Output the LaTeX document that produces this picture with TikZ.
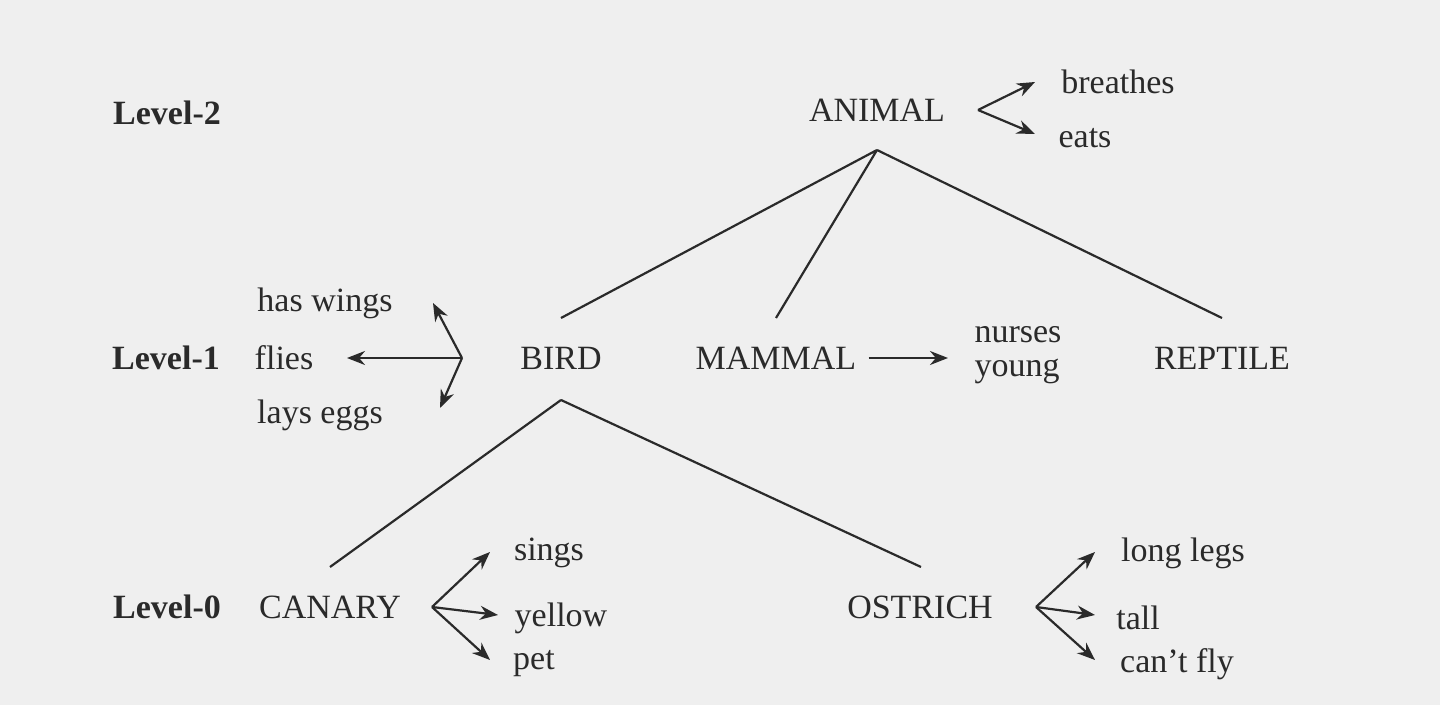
\documentclass[tikz,border=0pt]{standalone}
\usepackage{fontspec}
\setmainfont{Liberation Serif}
\usetikzlibrary{arrows.meta}
\definecolor{bg}{HTML}{EFEFEF}
\definecolor{ink}{HTML}{2A2A2A}
\begin{document}
\begin{tikzpicture}[x=0.5pt,y=-0.5pt,
  t/.style={text=ink,font=\fontsize{17}{19}\selectfont,inner sep=0pt},
  lv/.style={t,font=\fontsize{17}{19}\selectfont\bfseries},
  ln/.style={draw=ink,line width=1.1pt},
  ar/.style={ln,-{Stealth[length=9pt,width=7pt]}}]
\fill[bg] (0,0) rectangle (1440,705);
\useasboundingbox (0,0) rectangle (1440,705);
\node[lv] (l2) at (167,113) {Level-2};
\node[lv] (l1) at (166,358) {Level-1};
\node[lv] (l0) at (167,607) {Level-0};
\node[t] (animal) at (877,110) {ANIMAL};
\node[t] (breathes) at (1118,82) {breathes};
\node[t] (eats) at (1085,138) {eats};
\node[t] (bird) at (561,358) {BIRD};
\node[t] (mammal) at (776,358) {MAMMAL};
\node[t] (reptile) at (1222,358) {REPTILE};
\node[t] (wings) at (325,303) {has wings};
\node[t] (flies) at (284,358) {flies};
\node[t] (eggs) at (320,415) {lays eggs};
\node[t,align=left] (nurses) at (1018,355) {nurses\\[-2pt]young};
\node[t] (canary) at (330,607) {CANARY};
\node[t] (ostrich) at (920,607) {OSTRICH};
\node[t] (sings) at (549,553) {sings};
\node[t] (yellow) at (561,618) {yellow};
\node[t] (pet) at (534,664) {pet};
\node[t] (legs) at (1183,553) {long legs};
\node[t] (tall) at (1138,618) {tall};
\node[t] (cantfly) at (1177,664) {can’t fly};
\coordinate (a0) at (978,110);
\coordinate (ab) at (877,150);
\coordinate (bt) at (561,318);
\coordinate (mt) at (776,318);
\coordinate (rt) at (1222,318);
\coordinate (b0) at (462,358);
\coordinate (bb) at (561,400);
\coordinate (ct) at (330,567);
\coordinate (ot) at (921,567);
\coordinate (c0) at (432,607);
\coordinate (o0) at (1036,607);
\draw[ar] (a0) -- (1035,82);
\draw[ar] (a0) -- (1035,134);
\draw[ln] (ab) -- (bt) (ab) -- (mt) (ab) -- (rt);
\draw[ar] (b0) -- (433,303);
\draw[ar] (b0) -- (347,358);
\draw[ar] (b0) -- (440,408);
\draw[ar] (mammal.east)++(12,0) -- (948,358);
\draw[ln] (bb) -- (ct) (bb) -- (ot);
\draw[ar] (c0) -- (490,552);
\draw[ar] (c0) -- (498,615);
\draw[ar] (c0) -- (490,660);
\draw[ar] (o0) -- (1095,552);
\draw[ar] (o0) -- (1095,615);
\draw[ar] (o0) -- (1095,660);
\end{tikzpicture}
\end{document}
